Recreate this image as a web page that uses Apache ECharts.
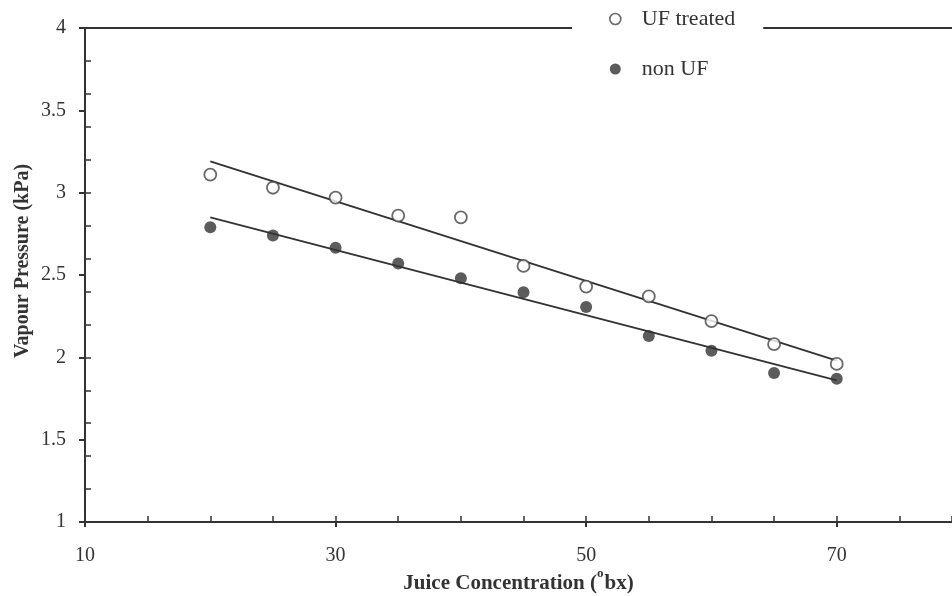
<!DOCTYPE html>
<html>
<head>
<meta charset="utf-8">
<script src="https://cdn.jsdelivr.net/npm/echarts@6/dist/echarts.min.js"></script>
<style>html,body{margin:0;padding:0;background:#fff;}#c{width:952px;height:596px;}</style>
</head>
<body>
<div id="c"></div>
<script>
var concentration = [20, 25, 30, 35, 40, 45, 50, 55, 60, 65, 70];
var ufTreated = [3.11, 3.03, 2.97, 2.86, 2.85, 2.555, 2.43, 2.37, 2.22, 2.08, 1.96];
var nonUF = [2.79, 2.74, 2.665, 2.57, 2.48, 2.395, 2.305, 2.13, 2.04, 1.905, 1.87];
var ufFitX = [20, 70];
var ufFitY = [3.19, 1.98];
var nonFitX = [20, 70];
var nonFitY = [2.85, 1.86];
var xLabelValues = [10, 30, 50, 70];

function pairs(xs, ys) { return xs.map(function (x, i) { return [x, ys[i]]; }); }

var FONT = 'Liberation Serif';
var AX = '#333';
var chart = echarts.init(document.getElementById('c'), null, { renderer: 'canvas' });
var xMin = 10, xMax = 79.2;
chart.setOption({
  backgroundColor: '#ffffff',
  animation: false,
  grid: { left: 85, right: 0, top: 28, bottom: 74, containLabel: false, outerBoundsMode: 'none' },
  legend: {
    orient: 'vertical', left: 572, top: 4, itemGap: 28,
    backgroundColor: '#ffffff', padding: [4, 28, 6, 37],
    itemWidth: 11, itemHeight: 11,
    textStyle: { fontFamily: FONT, fontSize: 22, color: '#333', padding: [0, 0, 0, 16] },
    data: [
      { name: 'UF treated', icon: 'circle', itemStyle: { color: '#fff', borderColor: '#444', borderWidth: 1.6 } },
      { name: 'non UF', icon: 'circle' }
    ]
  },
  xAxis: [
    {
      type: 'value', min: xMin, max: xMax, interval: 5, gridIndex: 0, position: 'bottom',
      name: 'Juice Concentration ({sup|o}bx)', nameLocation: 'middle', nameGap: 51, nameMoveOverlap: false,
      nameTextStyle: {
        fontFamily: FONT, fontSize: 21, fontWeight: 'bold', color: '#333',
        rich: { sup: { fontFamily: FONT, fontSize: 13, fontWeight: 'bold', color: '#333', verticalAlign: 'bottom', lineHeight: 13, padding: [0, 1, 14, 0] } }
      },
      axisLine: { show: true, onZero: false, lineStyle: { color: AX, width: 2 } },
      axisTick: { show: true, inside: false, length: 5, customValues: xLabelValues, lineStyle: { color: AX, width: 2 } },
      axisLabel: { show: true, margin: 24, customValues: xLabelValues, fontFamily: FONT, fontSize: 20, color: '#333' },
      splitLine: { show: false }
    },
    {
      type: 'value', min: xMin, max: xMax, interval: 5, gridIndex: 0, position: 'bottom',
      axisLine: { show: false },
      axisTick: { show: true, inside: true, length: 6, lineStyle: { color: AX, width: 1.5 } },
      axisLabel: { show: false },
      splitLine: { show: false }
    },
    {
      type: 'value', min: xMin, max: xMax, gridIndex: 0, position: 'top',
      axisLine: { show: true, onZero: false, lineStyle: { color: AX, width: 2 } },
      axisTick: { show: false }, axisLabel: { show: false }, splitLine: { show: false }
    }
  ],
  yAxis: [
    {
      type: 'value', min: 1, max: 4, interval: 0.5, position: 'left',
      name: 'Vapour Pressure (kPa)', nameLocation: 'middle', nameGap: 52, nameRotate: 90, nameMoveOverlap: false,
      nameTextStyle: { fontFamily: FONT, fontSize: 20, fontWeight: 'bold', color: '#333', padding: [0, 0, 0, 28] },
      axisLine: { show: true, onZero: false, lineStyle: { color: AX, width: 2 } },
      axisTick: { show: true, inside: false, length: 6, lineStyle: { color: AX, width: 2 } },
      axisLabel: { show: true, margin: 19, fontFamily: FONT, fontSize: 20, color: '#333' },
      splitLine: { show: false }
    },
    {
      type: 'value', min: 1, max: 4, interval: 0.2, position: 'left',
      axisLine: { show: false },
      axisTick: { show: true, inside: true, length: 6, lineStyle: { color: AX, width: 1.5 } },
      axisLabel: { show: false },
      splitLine: { show: false }
    }
  ],
  series: [
    {
      name: 'UF treated', type: 'scatter', xAxisIndex: 0, yAxisIndex: 0,
      data: pairs(concentration, ufTreated), symbol: 'circle', symbolSize: 12,
      itemStyle: { color: '#fff', borderColor: '#444', borderWidth: 1.8 }, z: 5
    },
    {
      name: 'non UF', type: 'scatter', xAxisIndex: 0, yAxisIndex: 0,
      data: pairs(concentration, nonUF), symbol: 'circle', symbolSize: 12,
      itemStyle: { color: '#333' }, z: 5
    },
    {
      name: 'UF fit', type: 'line', xAxisIndex: 0, yAxisIndex: 0,
      data: pairs(ufFitX, ufFitY), showSymbol: false, symbol: 'none',
      lineStyle: { color: '#333', width: 2 }, z: 3
    },
    {
      name: 'non UF fit', type: 'line', xAxisIndex: 0, yAxisIndex: 0,
      data: pairs(nonFitX, nonFitY), showSymbol: false, symbol: 'none',
      lineStyle: { color: '#333', width: 2 }, z: 3
    }
  ]
});
</script>
</body>
</html>
